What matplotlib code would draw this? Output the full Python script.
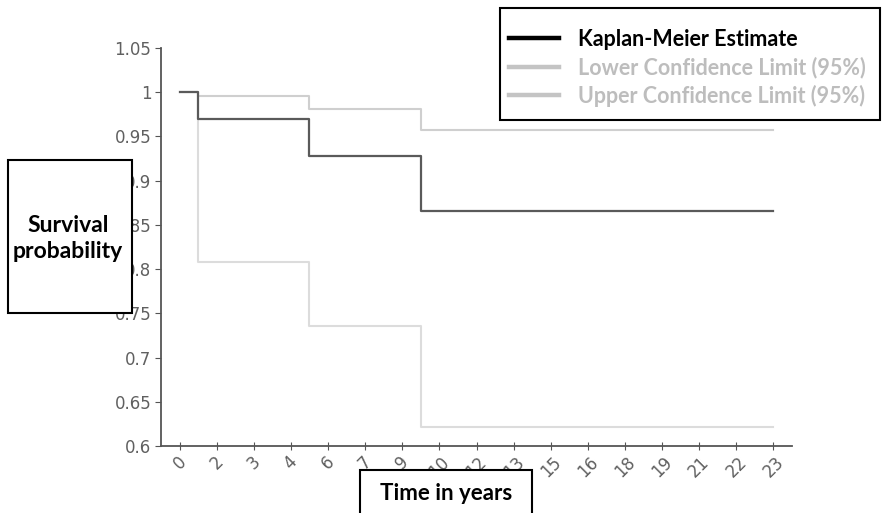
import matplotlib
matplotlib.use("Agg")
import matplotlib.pyplot as plt
from matplotlib.patches import Rectangle
from matplotlib.lines import Line2D

categories = ["0", "2", "3", "4", "6", "7", "9", "10", "12", "13", "15", "16", "18", "19", "21", "22", "23"]
km = [1.0, 0.970, 0.970, 0.970, 0.928, 0.928, 0.928] + [0.866] * 10
lower = [1.0, 0.808, 0.808, 0.808, 0.736, 0.736, 0.736] + [0.622] * 10
upper = [1.0, 0.996, 0.996, 0.996, 0.981, 0.981, 0.981] + [0.957] * 10
yticks = [0.6, 0.65, 0.7, 0.75, 0.8, 0.85, 0.9, 0.95, 1.0, 1.05]
ytick_labels = ["0.6", "0.65", "0.7", "0.75", "0.8", "0.85", "0.9", "0.95", "1", "1.05"]
legend_labels = ["Kaplan-Meier Estimate", "Lower Confidence Limit (95%)", "Upper Confidence Limit (95%)"]

fig = plt.figure(figsize=(8.82, 5.13), dpi=100)
ax = fig.add_axes([161 / 882, 1 - 446 / 513, (792 - 161) / 882, (446 - 48) / 513])

x = list(range(len(categories)))
ax.plot(x, lower, drawstyle="steps-mid", color="#dcdcdc", lw=1.5)
ax.plot(x, upper, drawstyle="steps-mid", color="#cfcfcf", lw=1.5)
ax.plot(x, km, drawstyle="steps-mid", color="#5a5a5a", lw=1.6)

ax.set_xlim(-0.5, 16.5)
ax.set_ylim(0.6, 1.05)
ax.set_xticks(x)
ax.set_xticklabels(categories, rotation=45, ha="center", va="top", fontsize=12, color="#606060")
ax.set_yticks(yticks)
ax.set_yticklabels(ytick_labels, fontsize=12, color="#606060")
for s in ["top", "right"]:
    ax.spines[s].set_visible(False)
for s in ["left", "bottom"]:
    ax.spines[s].set_color("#555555")
    ax.spines[s].set_linewidth(1.3)
ax.tick_params(axis="x", direction="inout", length=6, color="#555555", pad=2)
ax.tick_params(axis="y", direction="out", length=4, color="#555555", pad=3)

# Y label box
fig.patches.append(Rectangle((8 / 882, 1 - 313 / 513), 124 / 882, 153 / 513,
                             transform=fig.transFigure, facecolor="white",
                             edgecolor="black", lw=1.5, zorder=5))
fig.text(68 / 882, 1 - 226 / 513, "Survival", ha="center", va="center",
         fontsize=16.5, fontweight="bold", family="Lato", zorder=6)
fig.text(68 / 882, 1 - 252 / 513, "probability", ha="center", va="center",
         fontsize=16.5, fontweight="bold", family="Lato", zorder=6)

# X label box
fig.patches.append(Rectangle((360 / 882, -0.02), 172 / 882, 0.02 + 43 / 513,
                             transform=fig.transFigure, facecolor="white",
                             edgecolor="black", lw=1.5, zorder=5))
fig.text(446 / 882, 1 - 494 / 513, "Time in years", ha="center", va="center",
         fontsize=16, fontweight="bold", family="Lato", zorder=6)

# Legend box and legend
fig.patches.append(Rectangle((500 / 882, 1 - 120 / 513), 380 / 882, 112 / 513,
                             transform=fig.transFigure, facecolor="white",
                             edgecolor="black", lw=1.5, zorder=1))
lh = [Line2D([], [], color="black", lw=3.2), Line2D([], [], color="#c4c4c4", lw=3.2),
      Line2D([], [], color="#c4c4c4", lw=3.2)]
leg = fig.legend(lh, legend_labels, loc="upper left", bbox_to_anchor=(509 / 882, 1 - 29 / 513),
                 frameon=False, prop={"family": "Lato", "weight": "bold", "size": 15.5},
                 labelcolor=["black", "#bdbdbd", "#bdbdbd"], handlelength=2.3, handletextpad=0.9,
                 borderpad=0, labelspacing=0.3, borderaxespad=0)

fig.savefig("out.png", dpi=100)
